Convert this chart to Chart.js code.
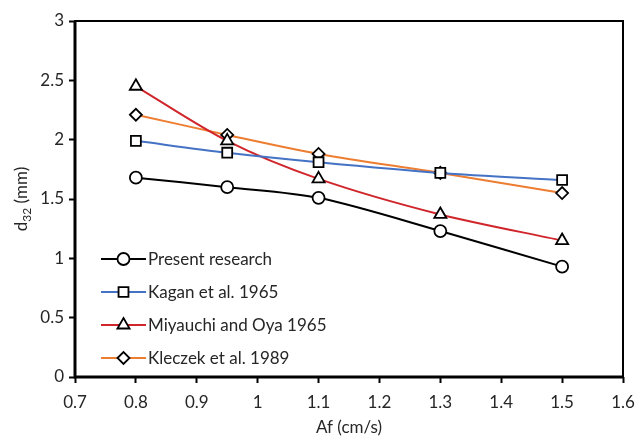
<!DOCTYPE html>
<html>
<head>
<meta charset="utf-8">
<script src="https://cdn.jsdelivr.net/npm/chart.js@4/dist/chart.umd.min.js"></script>
<style>
  html, body { margin: 0; padding: 0; background: #fff; }
  #wrap { width: 638px; height: 442px; }
</style>
</head>
<body>
<div id="wrap"><canvas id="c" width="638" height="442"></canvas></div>
<script>
// velocities (cm/s)
const af = [0.8, 0.95, 1.1, 1.3, 1.5];
const present = [1.68, 1.60, 1.51, 1.23, 0.93];
const kagan = [1.99, 1.89, 1.81, 1.72, 1.66];
const miyauchi = [2.45, 1.99, 1.67, 1.37, 1.15];
const kleczek = [2.21, 2.04, 1.88, 1.72, 1.55];
const xTicks = [0.7, 0.8, 0.9, 1, 1.1, 1.2, 1.3, 1.4, 1.5, 1.6];
const yTicks = [0, 0.5, 1, 1.5, 2, 2.5, 3];
const names = ['Present research', 'Kagan et al. 1965', 'Miyauchi and Oya 1965', 'Kleczek et al. 1989'];

const FONT = 'Lato, "Open Sans", sans-serif';
const TXT = '#262626';

function pts(ys) { return af.map((x, i) => ({ x: x, y: ys[i] })); }

function ds(label, ys, color, style, r) {
  return {
    label: label, data: pts(ys),
    borderColor: color, borderWidth: 2,
    pointStyle: style, pointRadius: r,
    pointBackgroundColor: '#fff', pointBorderColor: '#000', pointBorderWidth: 1.8,
    tension: 0.3, cubicInterpolationMode: 'default'
  };
}

// legend drawn inside the plot, lower left, line + marker like Excel
const insideLegend = {
  id: 'insideLegend',
  afterDraw(chart) {
    const ctx = chart.ctx, a = chart.chartArea;
    ctx.save();
    // frame
    ctx.strokeStyle = '#000'; ctx.lineWidth = 2;
    ctx.strokeRect(a.left, a.top, a.right - a.left, a.bottom - a.top);
    ctx.lineWidth = 3;
    ctx.beginPath();
    ctx.moveTo(a.left, a.top); ctx.lineTo(a.left, a.bottom); ctx.lineTo(a.right, a.bottom);
    ctx.stroke();

    ctx.font = '17px ' + FONT;
    ctx.textBaseline = 'middle';
    chart.data.datasets.forEach((d, i) => {
      const y = a.top + 238 + i * 33;
      const x0 = a.left + 26;
      ctx.strokeStyle = d.borderColor; ctx.lineWidth = 2;
      ctx.beginPath(); ctx.moveTo(x0, y); ctx.lineTo(x0 + 45, y); ctx.stroke();
      ctx.fillStyle = '#fff'; ctx.strokeStyle = '#000'; ctx.lineWidth = 1.8;
      Chart.helpers.drawPoint(ctx, { pointStyle: d.pointStyle, radius: d.pointRadius, rotation: 0, borderWidth: 1.8 }, x0 + 22.5, y);
      ctx.fillStyle = TXT; ctx.textAlign = 'left';
      ctx.fillText(d.label, x0 + 47, y + 1);
    });

    // y title with subscript
    ctx.translate(22, (a.top + a.bottom) / 2);
    ctx.rotate(-Math.PI / 2);
    ctx.fillStyle = TXT;
    ctx.textAlign = 'left';
    const big = '17px ' + FONT, small = '12px ' + FONT;
    ctx.font = big; const w1 = ctx.measureText('d').width;
    ctx.font = small; const w2 = ctx.measureText('32').width;
    ctx.font = big; const w3 = ctx.measureText(' (mm)').width;
    let sx = -(w1 + w2 + w3) / 2;
    ctx.font = big; ctx.fillText('d', sx, 0); sx += w1;
    ctx.font = small; ctx.fillText('32', sx, 5); sx += w2;
    ctx.font = big; ctx.fillText(' (mm)', sx, 0);
    ctx.restore();
  }
};

new Chart(document.getElementById('c'), {
  type: 'line',
  data: {
    datasets: [
      ds(names[0], present, '#000000', 'circle', 6),
      ds(names[1], kagan, '#4472C4', 'rect', 7),
      ds(names[2], miyauchi, '#D0262B', 'triangle', 7),
      ds(names[3], kleczek, '#ED7D31', 'rectRot', 6)
    ]
  },
  options: {
    responsive: false,
    animation: false,
    layout: { padding: { top: 21, right: 15, left: 0, bottom: 0 } },
    plugins: { legend: { display: false }, tooltip: { enabled: false } },
    scales: {
      x: {
        type: 'linear', min: 0.7, max: 1.6,
        afterBuildTicks: s => { s.ticks = xTicks.map(v => ({ value: v })); },
        afterFit: s => { s.height = 65; s.paddingLeft = 0; s.paddingRight = 0; },
        grid: { display: true, drawOnChartArea: false, tickLength: 6, tickColor: '#000', tickWidth: 2 },
        border: { display: false },
        ticks: { color: TXT, font: { family: FONT, size: 17 }, padding: 9, maxRotation: 0,
                 callback: v => String(Math.round(v * 10) / 10) },
        title: { display: true, text: 'Af (cm/s)', color: TXT, font: { family: FONT, size: 17 }, padding: { top: 4 } }
      },
      y: {
        min: 0, max: 3,
        afterBuildTicks: s => { s.ticks = yTicks.map(v => ({ value: v })); },
        afterFit: s => { s.width = 75; s.paddingTop = 0; s.paddingBottom = 0; },
        grid: { display: true, drawOnChartArea: false, tickLength: 6, tickColor: '#000', tickWidth: 2 },
        border: { display: false },
        ticks: { color: TXT, font: { family: FONT, size: 17 }, padding: 5,
                 callback: v => String(v) }
      }
    }
  },
  plugins: [insideLegend]
});
</script>
</body>
</html>
